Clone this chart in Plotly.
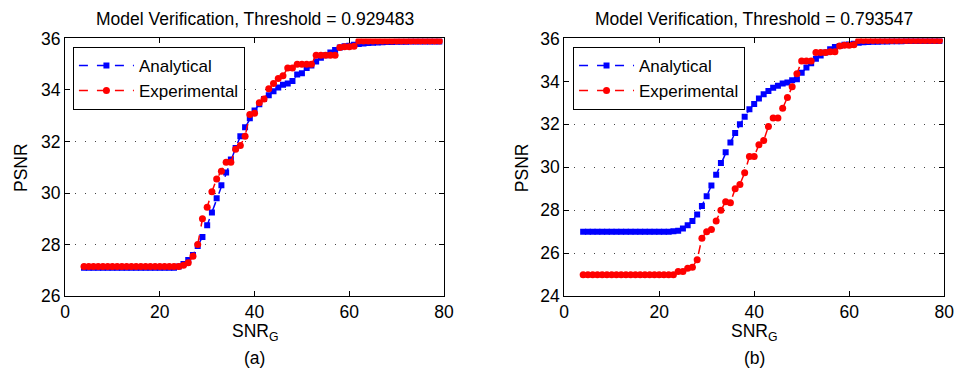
import plotly.graph_objects as go

snr = list(range(4, 80))

# Left panel (a)
ana_a = [27.1]*20 + [27.15, 27.25, 27.4, 27.6, 27.95, 28.3, 28.75, 29.25, 29.8, 30.3,
         30.8, 31.3, 31.75, 32.2, 32.55, 32.9, 33.2, 33.45, 33.65, 33.8,
         33.95, 34.1, 34.2, 34.25, 34.35, 34.6, 34.65, 34.85, 34.95, 35.1,
         35.25, 35.35, 35.45, 35.55, 35.65, 35.7, 35.72, 35.75, 35.78, 35.8,
         35.82, 35.83, 35.84, 35.85, 35.86, 35.86, 35.87, 35.87, 35.87, 35.88,
         35.88, 35.88, 35.88, 35.88, 35.88, 35.88]
exp_a = [27.15]*21 + [27.2, 27.3, 27.55, 28.0, 29.0, 29.45, 30.05, 30.55, 30.85, 31.2,
         31.2, 31.7, 31.85, 32.2, 33.05, 33.1, 33.5, 33.65, 34.05, 34.25,
         34.45, 34.55, 34.85, 34.85, 35.0, 35.0, 35.0, 35.0, 35.35, 35.35,
         35.35, 35.35, 35.35, 35.65, 35.68, 35.68, 35.7] + [35.9]*18

# Right panel (b)
ana_b = [27.0]*19 + [27.02, 27.05, 27.15, 27.3, 27.5, 27.8, 28.2, 28.65, 29.15, 29.65,
         30.2, 30.7, 31.15, 31.6, 32.0, 32.35, 32.7, 32.95, 33.2, 33.4,
         33.55, 33.7, 33.8, 33.9, 33.95, 34.05, 34.1, 34.4, 34.65, 34.85,
         35.05, 35.2, 35.35, 35.5, 35.6, 35.65, 35.7, 35.72, 35.75, 35.8,
         35.82, 35.83, 35.84, 35.85, 35.86, 35.86, 35.87, 35.87, 35.87, 35.88,
         35.88, 35.88, 35.88, 35.88, 35.88, 35.88, 35.88]
exp_b = [25.0]*20 + [25.15, 25.15, 25.3, 25.35, 25.7, 26.7, 27.0, 27.1, 27.5, 28.0,
         28.4, 28.35, 29.0, 29.2, 29.75, 30.5, 30.5, 31.05, 31.25, 31.9,
         32.3, 32.3, 32.75, 33.25, 33.75, 34.35, 34.95, 34.95, 34.95, 35.35,
         35.35, 35.35, 35.38, 35.38, 35.65, 35.68, 35.68, 35.7] + [35.9]*18

titles = ["Model Verification, Threshold = 0.929483", "Model Verification, Threshold = 0.793547"]
panel_labels = ["(a)", "(b)"]
xticks = [0, 20, 40, 60, 80]
yticks_a = [26, 28, 30, 32, 34, 36]
yticks_b = [24, 26, 28, 30, 32, 34, 36]

FONT = "Liberation Sans, Arial, Helvetica, sans-serif"
FS = 17.5
W, H = 965, 381

def px(sx):
    return sx / W

def py(sy):
    return 1 - sy / H

fig = go.Figure()

def add_pair(ana, exp, xa, ya, leg):
    fig.add_trace(go.Scatter(x=snr, y=ana, mode="lines+markers", name="Analytical",
                             line=dict(color="#0000ff", width=1.5, dash="dash"),
                             marker=dict(symbol="square", size=6, color="#0000ff"),
                             xaxis=xa, yaxis=ya, legend=leg))
    fig.add_trace(go.Scatter(x=snr, y=exp, mode="lines+markers", name="Experimental",
                             line=dict(color="#ff0000", width=1.5, dash="dash"),
                             marker=dict(symbol="circle", size=7, color="#ff0000"),
                             xaxis=xa, yaxis=ya, legend=leg))

add_pair(ana_a, exp_a, "x", "y", "legend")
add_pair(ana_b, exp_b, "x2", "y2", "legend2")

ydom = [py(302), py(30)]
xdom_a = [px(61), px(446)]
xdom_b = [px(568), px(954)]

axis_common = dict(showline=True, linecolor="black", linewidth=1, mirror="ticks",
                   ticks="inside", ticklen=5, tickcolor="black",
                   tickfont=dict(family=FONT, size=FS, color="black"), zeroline=False)

legend_common = dict(xanchor="left", yanchor="top", bordercolor="black", borderwidth=1,
                     bgcolor="white", font=dict(family=FONT, size=17), tracegroupgap=0,
                     itemwidth=55)

fig.update_layout(
    width=W, height=H,
    margin=dict(l=0, r=0, t=0, b=0),
    paper_bgcolor="white", plot_bgcolor="white",
    font=dict(family=FONT, size=FS, color="black"),
    xaxis=dict(domain=xdom_a, range=[0, 80], tickvals=xticks, showgrid=False, anchor="y", **axis_common),
    yaxis=dict(domain=ydom, range=[26, 36], tickvals=yticks_a, showgrid=True,
               gridcolor="#444444", griddash="1px,9px", gridwidth=1, anchor="x", **axis_common),
    xaxis2=dict(domain=xdom_b, range=[0, 80], tickvals=xticks, showgrid=False, anchor="y2", **axis_common),
    yaxis2=dict(domain=ydom, range=[24, 36], tickvals=yticks_b, showgrid=True,
                gridcolor="#444444", griddash="1px,9px", gridwidth=1, anchor="x2", **axis_common),
    legend=dict(x=px(69), y=py(39), **legend_common),
    legend2=dict(x=px(577), y=py(39), **legend_common),
    showlegend=True,
)

annotations = []
for i, (dom, t, pl) in enumerate(zip([xdom_a, xdom_b], titles, panel_labels)):
    cx = (dom[0] + dom[1]) / 2
    annotations.append(dict(text=t, x=cx, y=py(10), xref="paper", yref="paper",
                            showarrow=False, xanchor="center", yanchor="middle",
                            font=dict(family=FONT, size=FS)))
    annotations.append(dict(text="SNR<sub>G</sub>", x=cx, y=py(340), xref="paper", yref="paper",
                            showarrow=False, xanchor="center", yanchor="middle",
                            font=dict(family=FONT, size=FS)))
    annotations.append(dict(text=pl, x=cx, y=py(367), xref="paper", yref="paper",
                            showarrow=False, xanchor="center", yanchor="middle",
                            font=dict(family=FONT, size=FS)))
    sx = 17 if i == 0 else 525
    annotations.append(dict(text="PSNR", x=px(sx), y=py(166), xref="paper", yref="paper",
                            showarrow=False, xanchor="center", yanchor="middle", textangle=-90,
                            font=dict(family=FONT, size=FS)))
fig.update_layout(annotations=annotations)

fig.write_html("out.html", config={"displayModeBar": False},
               post_script="document.body.style.margin='0';document.body.style.overflow='hidden';")
